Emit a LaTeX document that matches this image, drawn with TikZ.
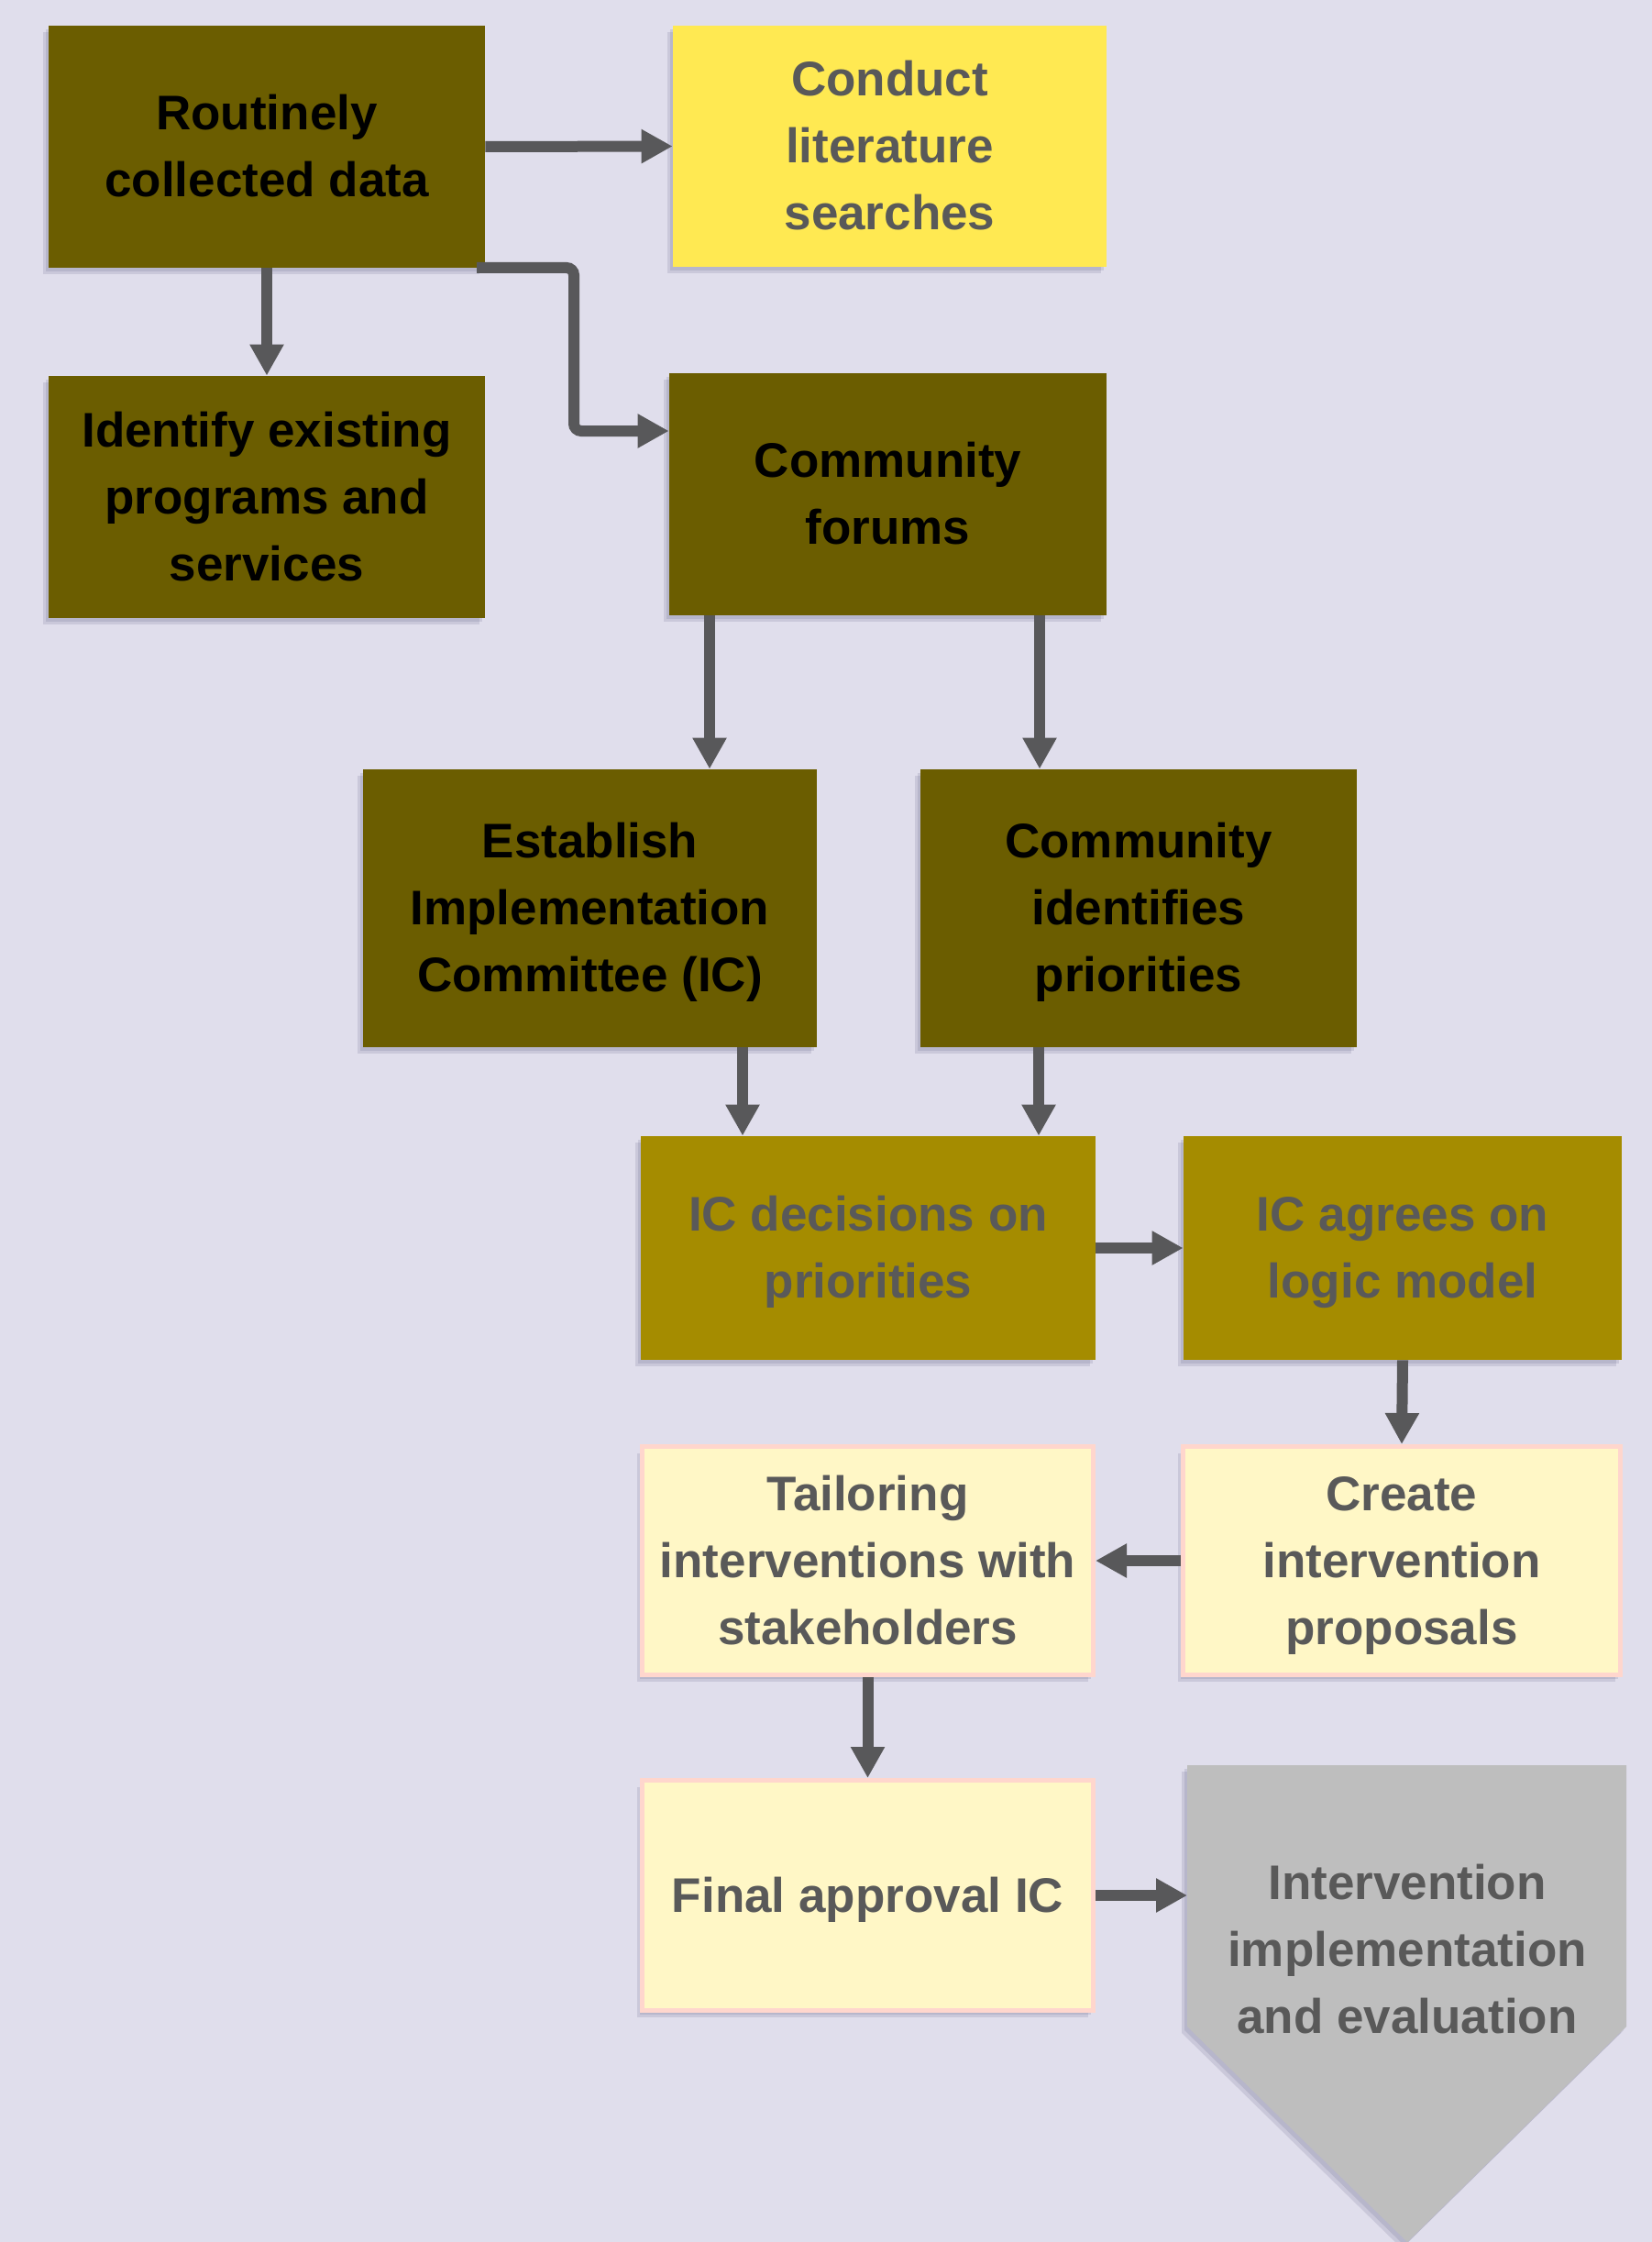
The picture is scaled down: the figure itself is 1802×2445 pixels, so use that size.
\documentclass[tikz,border=0pt]{standalone}
\usepackage{fontspec}
\setmainfont{Liberation Sans}
\usetikzlibrary{arrows.meta}
\definecolor{bgcol}{RGB}{224,222,236}
\definecolor{olivedark}{RGB}{107,93,0}
\definecolor{olivemid}{RGB}{165,140,0}
\definecolor{brightyellow}{RGB}{255,233,82}
\definecolor{paleyellow}{RGB}{255,247,198}
\definecolor{pinkborder}{RGB}{255,214,205}
\definecolor{pentagray}{RGB}{190,190,190}
\definecolor{textgray}{RGB}{89,89,89}
\definecolor{arrowcol}{RGB}{88,88,90}
\definecolor{shadowcol}{RGB}{90,90,125}
\newcommand\ls{\rule[-5.6pt]{0pt}{29.6pt}}
\begin{document}
\begin{tikzpicture}[x=0.5pt,y=-0.5pt,
  shadowed/.style={
    preaction={fill=shadowcol,opacity=0.16,transform canvas={shift={(-1.5pt,-2pt)}}},
    preaction={fill=shadowcol,opacity=0.16,transform canvas={shift={(-3pt,-3.5pt)}}}},
  txt/.style={inner sep=0pt, align=center,
    font=\bfseries\fontsize{26.5pt}{36.5pt}\selectfont},
  base/.style={shadowed, txt},
  sz/.style 2 args={minimum width=#1*0.5pt, minimum height=#2*0.5pt},
  darkbox/.style={base, fill=olivedark, text=black},
  yellowbox/.style={base, fill=brightyellow, text=textgray},
  midbox/.style={base, fill=olivemid, text=textgray},
  palebox/.style={base, fill=paleyellow, draw=pinkborder, line width=2.5pt, text=textgray},
  arr/.style={draw=arrowcol, line width=6pt, -{Triangle[length=17pt,width=17.5pt]}}
]
\useasboundingbox (0,0) rectangle (1802,2445);
\fill[bgcol] (0,0) rectangle (1802,2445);

% boxes
\node[darkbox, sz={476}{264}] (A) at (291,160) {\ls Routinely\\collected data\ls};
\node[yellowbox, sz={473}{263}] (B) at (970.5,159.5) {\ls Conduct\\literature\\searches\ls};
\node[darkbox, sz={476}{264}] (C) at (291,542) {\ls Identify existing\\programs and\\services\ls};
\node[darkbox, sz={477}{264}] (D) at (968.5,539) {\ls Community\\forums\ls};
\node[darkbox, sz={495}{303}] (E) at (643.5,990.5) {\ls Establish\\Implementation\\Committee (IC)\ls};
\node[darkbox, sz={476}{303}] (F) at (1242,990.5) {\ls Community\\identifies\\priorities\ls};
\node[midbox, sz={496}{244}] (G) at (947,1361) {\ls IC decisions on\\priorities\ls};
\node[midbox, sz={478}{244}] (H) at (1530,1361) {\ls IC agrees on\\logic model\ls};
\node[palebox, sz={492}{249}] (I) at (946.5,1702) {\ls Tailoring\\interventions with\\stakeholders\ls};
\node[palebox, sz={477}{249}] (J) at (1529,1702) {\ls Create\\intervention\\proposals\ls};
\node[palebox, sz={492}{251}] (K) at (946.5,2067) {\ls Final approval IC\ls};

% final pentagon
\fill[pentagray, shadowed] (1295,1925) -- (1774,1925) -- (1774,2210) -- (1535,2445) -- (1295,2210) -- cycle;
\node[txt, text=textgray] (L) at (1535,2126) {\ls Intervention\\implementation\\and evaluation\ls};
\coordinate (Lw) at (1295,2067);

% connectors
\coordinate (Aout) at (520,292);
\coordinate (Dleft) at (D.west |- 0,470);
\draw[arr] (A.east) -- (B.west);
\draw[arr] (A.south) -- (C.north);
\draw[arr, rounded corners=4pt] (Aout) -- (626,292) -- (626,470) -- (Dleft);
\draw[arr] (D.south -| 774,0) -- (E.north -| 774,0);
\draw[arr] (D.south -| 1134,0) -- (F.north -| 1134,0);
\draw[arr] (E.south -| 810,0) -- (G.north -| 810,0);
\draw[arr] (F.south -| 1133,0) -- (G.north -| 1133,0);
\draw[arr] (G.east) -- (H.west);
\draw[arr] (H.south) -- (J.north);
\draw[arr] (J.west) -- (I.east);
\draw[arr] (I.south) -- (K.north);
\draw[arr] (K.east) -- (Lw);
\end{tikzpicture}
\end{document}
